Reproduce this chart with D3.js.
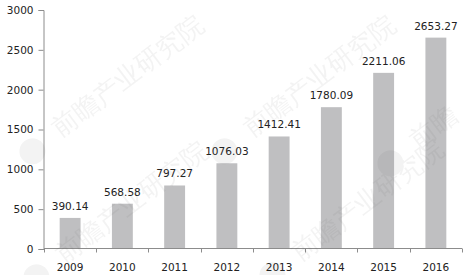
<!DOCTYPE html>
<html>
<head>
<meta charset="utf-8">
<script src="https://cdn.jsdelivr.net/npm/d3@7"></script>
<style>
  body { margin: 0; background: #fff; }
  text { font-family: "DejaVu Sans", Verdana, sans-serif; }
</style>
</head>
<body>
<svg></svg>
<script>
var years = ['2009', '2010', '2011', '2012', '2013', '2014', '2015', '2016'];
var values = [390.14, 568.58, 797.27, 1076.03, 1412.41, 1780.09, 2211.06, 2653.27];
var yTicks = [0, 500, 1000, 1500, 2000, 2500, 3000];

var width = 467;
var height = 275;
var mLeft = 44, mRight = 462, mTop = 10, mBottom = 249;

var svg = d3.select('svg')
    .attr('width', width)
    .attr('height', height);

var x = d3.scaleBand()
          .domain(years)
          .range([mLeft, mRight])
          .paddingInner(0.6)
          .paddingOuter(0.3);

var y = d3.scaleLinear()
          .domain([0, 3000])
          .range([mBottom, mTop]);

// bars
svg.selectAll('.bar')
    .data(values)
    .enter()
    .append('rect')
        .classed('bar', true)
        .attr('x', (d, i) => x(years[i]))
        .attr('width', x.bandwidth())
        .attr('y', d => y(d))
        .attr('height', d => y(0) - y(d))
        .attr('fill', '#bfbfc1');

// value labels
svg.selectAll('.lbl')
    .data(values)
    .enter()
    .append('text')
        .classed('lbl', true)
        .attr('x', (d, i) => x(years[i]) + x.bandwidth() / 2)
        .attr('y', d => y(d) - 8)
        .attr('text-anchor', 'middle')
        .attr('font-size', '10.5px')
        .attr('fill', '#222')
        .text(d => d.toFixed(2));

// y axis
var yAxis = svg.append('g')
    .attr('transform', 'translate(' + (mLeft - 0.5) + ',0)')
    .call(d3.axisLeft(y).tickValues(yTicks).tickFormat(d3.format('d')).tickSize(5).tickPadding(5));
yAxis.selectAll('line, path').attr('stroke', '#8c8c8c');
yAxis.selectAll('text').attr('font-size', '10.5px').attr('fill', '#222')
    .attr('font-family', '"DejaVu Sans", Verdana, sans-serif');

// x axis with ticks at band boundaries
var xAxis = svg.append('g')
    .attr('transform', 'translate(0,' + (mBottom - 0.5) + ')');
xAxis.append('line')
    .attr('x1', mLeft).attr('x2', mRight)
    .attr('stroke', '#8c8c8c');
var bounds = years.map(d => x(d) - x.bandwidth() * 0.75).concat([mRight]);
xAxis.selectAll('.xt')
    .data(bounds)
    .enter()
    .append('line')
        .attr('x1', d => Math.round(d) + 0.5)
        .attr('x2', d => Math.round(d) + 0.5)
        .attr('y1', 0).attr('y2', 4)
        .attr('stroke', '#8c8c8c');
xAxis.selectAll('.xl')
    .data(years)
    .enter()
    .append('text')
        .attr('x', d => x(d) + x.bandwidth() / 2)
        .attr('y', 22)
        .attr('text-anchor', 'middle')
        .attr('font-size', '10.5px')
        .attr('fill', '#222')
        .text(d => d);

// faint watermark, kept inside the picture
var marks = [[60, 138, '前瞻产业研究院'], [252, 138, '前瞻产业研究院'], [418, 150, '前瞻'],
             [64, 264, '前瞻产业研究院'], [300, 262, '前瞻产业研究院']];
var wm = svg.append('g').attr('opacity', 0.07);
marks.forEach(function(m) {
    var g = wm.append('g')
        .attr('transform', 'translate(' + m[0] + ',' + m[1] + ') rotate(-37)');
    g.append('circle').attr('cx', -30).attr('cy', -6).attr('r', 13).attr('fill', '#555');
    g.append('text')
        .attr('font-size', '26px')
        .attr('font-family', '"Noto Sans CJK SC", sans-serif')
        .attr('fill', '#555')
        .text(m[2]);
});
</script>
</body>
</html>
